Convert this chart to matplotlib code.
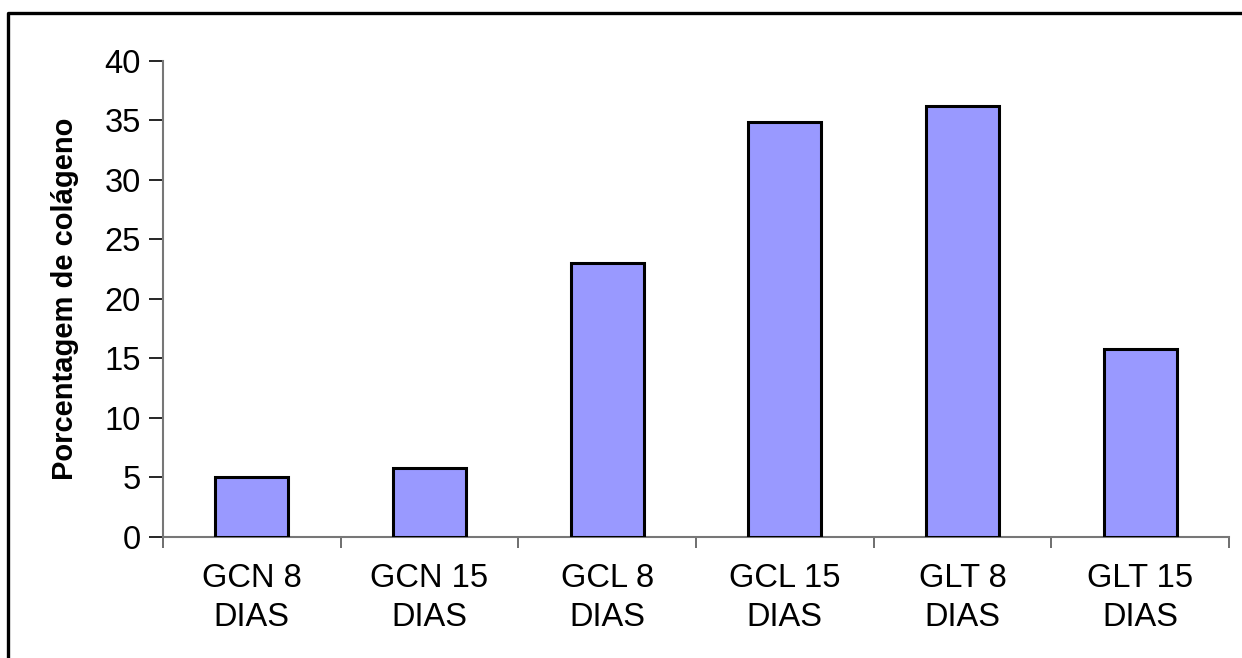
import matplotlib.pyplot as plt
from matplotlib.lines import Line2D

# percentagem de colágeno por grupo
grupos = ["GCN 8\nDIAS", "GCN 15\nDIAS", "GCL 8\nDIAS", "GCL 15\nDIAS", "GLT 8\nDIAS", "GLT 15\nDIAS"]
colageno = [5.0, 5.8, 23.0, 34.9, 36.2, 15.8]

plt.rcParams['font.family'] = ['Liberation Sans', 'DejaVu Sans']

fig = plt.figure(figsize=(12.42, 6.58), dpi=100)
ax = fig.add_axes([0.1312, 0.1839, 0.8583, 0.7234])

x = range(len(grupos))
ax.bar(x, colageno, width=0.41, color='#9999FF', edgecolor='black', linewidth=2.2, zorder=3)

ax.set_xlim(-0.5, len(grupos) - 0.5)
ax.set_ylim(0, 40)
ax.set_yticks(range(0, 41, 5))
ax.tick_params(axis='y', labelsize=23.5, length=10, width=1.2, color='black', pad=6)

# divisões entre categorias no eixo x
ax.set_xticks([i - 0.5 for i in range(len(grupos) + 1)], minor=False)
ax.set_xticklabels([])
ax.tick_params(axis='x', length=8, width=1.2, color='#555555')
ax.set_xticks(list(x), minor=True)
ax.set_xticklabels(grupos, minor=True, fontsize=23.5, linespacing=1.32)
ax.tick_params(axis='x', which='minor', length=0, pad=19)

for s in ['top', 'right']:
    ax.spines[s].set_visible(False)
for s in ['left', 'bottom']:
    ax.spines[s].set_color('#777777')
    ax.spines[s].set_linewidth(1.5)

ax.set_ylabel('Porcentagem de colágeno', fontsize=21, fontweight='bold', labelpad=18)

# moldura da figura
fig.add_artist(Line2D([8 / 1242, 8 / 1242, 1.01], [-0.01, 1 - 13 / 658, 1 - 13 / 658],
                      color='black', linewidth=2.4, transform=fig.transFigure))

fig.savefig('out.png', dpi=100)
